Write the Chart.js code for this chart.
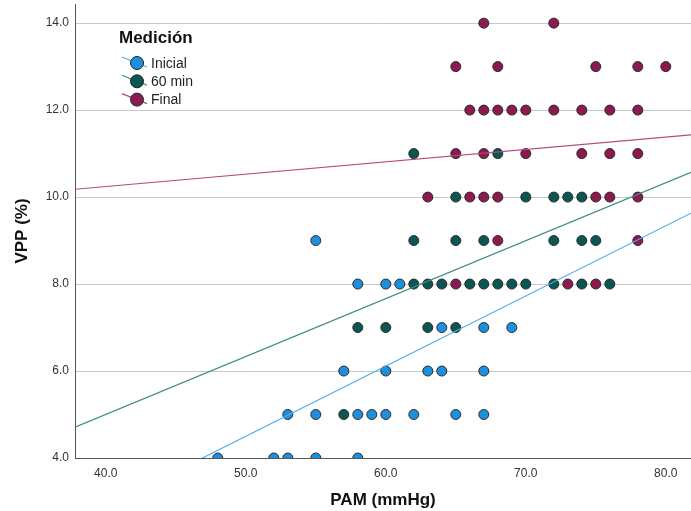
<!DOCTYPE html>
<html>
<head>
<meta charset="utf-8">
<script src="https://cdn.jsdelivr.net/npm/chart.js@4/dist/chart.umd.min.js"></script>
<style>
  body { margin: 0; background: #fff; }
  #wrap { width: 691px; height: 511px; }
</style>
</head>
<body>
<div id="wrap"><canvas id="chart" width="691" height="511"></canvas></div>
<script>
// axis ticks
const xTicks = [40, 50, 60, 70, 80];
const yTicks = [4, 6, 8, 10, 12, 14];

// Inicial (blue) - PAM / VPP
const inicialX = [48, 52, 53, 55, 58,  53, 55, 58, 59, 60, 62, 65, 67,  57, 60, 63, 64, 67,  64, 67, 69,  58, 60, 61,  55];
const inicialY = [4, 4, 4, 4, 4,        5, 5, 5, 5, 5, 5, 5, 5,         6, 6, 6, 6, 6,       7, 7, 7,     8, 8, 8,     9];

// 60 min (dark green)
const min60X = [57,  58, 60, 63, 65,  62, 63, 64, 66, 67, 68, 69, 70, 72, 74, 76,  62, 65, 67, 72, 74, 75,  65, 70, 72, 73, 74,  62, 68];
const min60Y = [5,   7, 7, 7, 7,      8, 8, 8, 8, 8, 8, 8, 8, 8, 8, 8,            9, 9, 9, 9, 9, 9,        10, 10, 10, 10, 10,   11, 11];

// Final (maroon)
const finalX = [65, 73, 75,  68, 78,  63, 66, 67, 68, 75, 76, 78,  65, 67, 70, 74, 76, 78,  66, 67, 68, 69, 70, 72, 74, 76, 78,  65, 68, 75, 78, 80,  67, 72];
const finalY = [8, 8, 8,     9, 9,    10, 10, 10, 10, 10, 10, 10,  11, 11, 11, 11, 11, 11,  12, 12, 12, 12, 12, 12, 12, 12, 12,  13, 13, 13, 13, 13,  14, 14];

// fit lines, endpoints
const fitInicialX = [46.9, 81.8];
const fitInicialY = [4.0, 9.63];
const fit60X = [37.8, 81.8];
const fit60Y = [4.71, 10.57];
const fitFinalX = [37.8, 81.8];
const fitFinalY = [10.18, 11.43];

const series = [
    { label: 'Inicial', fill: '#1e8fdf', line: '#4aaef0' },
    { label: '60 min', fill: '#0b5652', line: '#3f8b86' },
    { label: 'Final', fill: '#8c1a50', line: '#b24d7b' }
];

function pts(xs, ys) {
    return xs.map((x, i) => ({ x: x, y: ys[i] }));
}

const FONT = '"Liberation Sans", Arial, sans-serif';

// legend drawn inside the plot area, top left
const legendPlugin = {
    id: 'insideLegend',
    afterDraw(chart) {
        const ctx = chart.ctx;
        ctx.save();
        ctx.fillStyle = '#111';
        ctx.font = 'bold 17px ' + FONT;
        ctx.textBaseline = 'alphabetic';
        ctx.textAlign = 'left';
        ctx.fillText('Medición', 119, 43);

        series.forEach((s, i) => {
            const cy = 63 + i * 18.3;
            ctx.strokeStyle = s.line;
            ctx.lineWidth = 1.2;
            ctx.beginPath();
            ctx.moveTo(122, cy - 6);
            ctx.lineTo(147, cy + 4);
            ctx.stroke();

            ctx.beginPath();
            ctx.arc(137, cy, 6.5, 0, Math.PI * 2);
            ctx.fillStyle = s.fill;
            ctx.fill();
            ctx.strokeStyle = '#222';
            ctx.lineWidth = 1;
            ctx.stroke();

            ctx.fillStyle = '#222';
            ctx.font = '14px ' + FONT;
            ctx.textBaseline = 'middle';
            ctx.fillText(s.label, 151, cy + 1);
        });
        ctx.restore();
    }
};

function scatterSet(s, xs, ys, order) {
    return {
        type: 'scatter',
        label: s.label,
        data: pts(xs, ys),
        backgroundColor: s.fill,
        borderColor: '#2a2a2a',
        borderWidth: 1,
        pointRadius: 5,
        order: order
    };
}

function fitSet(s, xs, ys) {
    return {
        type: 'line',
        label: s.label + ' fit',
        data: pts(xs, ys),
        borderColor: s.line,
        borderWidth: 1.2,
        pointRadius: 0,
        fill: false,
        order: 0
    };
}

const ctx = document.getElementById('chart').getContext('2d');
new Chart(ctx, {
    data: {
        datasets: [
            fitSet(series[0], fitInicialX, fitInicialY),
            fitSet(series[1], fit60X, fit60Y),
            fitSet(series[2], fitFinalX, fitFinalY),
            scatterSet(series[2], finalX, finalY, 1),
            scatterSet(series[1], min60X, min60Y, 2),
            scatterSet(series[0], inicialX, inicialY, 3)
        ]
    },
    options: {
        responsive: false,
        animation: false,
        layout: {
            autoPadding: false,
            padding: { top: 4, right: 0, left: 0, bottom: 0 }
        },
        plugins: {
            legend: { display: false },
            tooltip: { enabled: false }
        },
        scales: {
            x: {
                type: 'linear',
                min: 37.8,
                max: 81.8,
                afterBuildTicks: function (scale) {
                    scale.ticks = xTicks.map(v => ({ value: v }));
                },
                afterFit: function (scale) {
                    scale.height = 53;
                    scale.paddingLeft = 0;
                    scale.paddingRight = 0;
                },
                grid: { display: false, drawTicks: false },
                border: { display: true, color: '#555', width: 1 },
                ticks: {
                    padding: 8,
                    color: '#333',
                    font: { family: FONT, size: 12 },
                    maxRotation: 0,
                    callback: v => v.toFixed(1)
                },
                title: {
                    display: true,
                    text: 'PAM (mmHg)',
                    color: '#111',
                    font: { family: FONT, size: 17, weight: 'bold' },
                    padding: { top: 0, bottom: 0 }
                }
            },
            y: {
                type: 'linear',
                min: 4,
                max: 14.44,
                afterBuildTicks: function (scale) {
                    scale.ticks = yTicks.map(v => ({ value: v }));
                },
                afterFit: function (scale) {
                    scale.width = 75;
                    scale.paddingTop = 0;
                    scale.paddingBottom = 0;
                },
                grid: {
                    color: '#c8c8c8',
                    lineWidth: 1,
                    drawTicks: false
                },
                border: { display: true, color: '#555', width: 1 },
                ticks: {
                    padding: 6,
                    color: '#333',
                    font: { family: FONT, size: 12 },
                    callback: v => v.toFixed(1)
                },
                title: {
                    display: true,
                    text: 'VPP (%)',
                    color: '#111',
                    font: { family: FONT, size: 17, weight: 'bold' },
                    padding: { top: 12, bottom: 0 }
                }
            }
        }
    },
    plugins: [legendPlugin]
});
</script>
</body>
</html>
